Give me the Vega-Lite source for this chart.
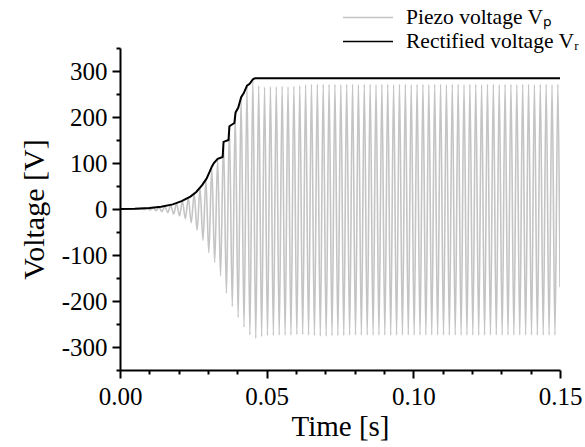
{
  "$schema": "https://vega.github.io/schema/vega-lite/v6.json",
  "width": 440,
  "height": 322,
  "autosize": {"type": "none"},
  "padding": {"left": 120, "top": 48, "right": 25, "bottom": 77},
  "background": "white",
  "config": {
    "view": {"stroke": null},
    "font": "Liberation Serif",
    "axis": {
      "grid": false,
      "domainColor": "black",
      "domainWidth": 2,
      "tickColor": "black",
      "tickWidth": 2,
      "labelFont": "Liberation Serif",
      "labelFontSize": 25,
      "labelColor": "black",
      "titleFont": "Liberation Serif",
      "titleFontSize": 29,
      "titleFontWeight": "normal",
      "titleColor": "black",
      "labelOverlap": false,
      "labelFlush": false
    }
  },
  "datasets": {
    "piezo": [
      {"t": 0, "v": 0},
      {"t": 0.00128, "v": 0.1}, {"t": 0.00228, "v": -0.2},
      {"t": 0.00328, "v": 0.2}, {"t": 0.00428, "v": -0.4},
      {"t": 0.00528, "v": 0.5}, {"t": 0.00628, "v": -0.7},
      {"t": 0.00728, "v": 0.8}, {"t": 0.00828, "v": -1.2},
      {"t": 0.00928, "v": 1.4}, {"t": 0.01028, "v": -2},
      {"t": 0.01128, "v": 2.3}, {"t": 0.01228, "v": -3.5},
      {"t": 0.01328, "v": 3.6}, {"t": 0.01428, "v": -5.5},
      {"t": 0.01528, "v": 5.5}, {"t": 0.01628, "v": -8},
      {"t": 0.01728, "v": 8}, {"t": 0.01828, "v": -11},
      {"t": 0.01928, "v": 12}, {"t": 0.02028, "v": -15},
      {"t": 0.02128, "v": 17}, {"t": 0.02228, "v": -21},
      {"t": 0.02328, "v": 24}, {"t": 0.02428, "v": -30},
      {"t": 0.02528, "v": 33}, {"t": 0.02628, "v": -46},
      {"t": 0.02728, "v": 45}, {"t": 0.02828, "v": -68},
      {"t": 0.02928, "v": 62}, {"t": 0.03028, "v": -95},
      {"t": 0.03128, "v": 90}, {"t": 0.03228, "v": -116},
      {"t": 0.03328, "v": 108}, {"t": 0.03428, "v": -145},
      {"t": 0.03528, "v": 146}, {"t": 0.03628, "v": -183},
      {"t": 0.03728, "v": 180}, {"t": 0.03828, "v": -212},
      {"t": 0.03928, "v": 208}, {"t": 0.04028, "v": -236},
      {"t": 0.04128, "v": 242}, {"t": 0.04228, "v": -257},
      {"t": 0.04328, "v": 268}, {"t": 0.04428, "v": -274},
      {"t": 0.04528, "v": 282}, {"t": 0.04628, "v": -281},
      {"t": 0.04728, "v": 268}, {"t": 0.04828, "v": -277},
      {"t": 0.04928, "v": 265}, {"t": 0.05028, "v": -275},
      {"t": 0.05128, "v": 266}, {"t": 0.05228, "v": -275},
      {"t": 0.05328, "v": 266}, {"t": 0.05428, "v": -274},
      {"t": 0.05528, "v": 267}, {"t": 0.05628, "v": -274},
      {"t": 0.05728, "v": 266}, {"t": 0.05828, "v": -274},
      {"t": 0.05928, "v": 267}, {"t": 0.06028, "v": -273},
      {"t": 0.06128, "v": 268}, {"t": 0.06228, "v": -273},
      {"t": 0.06328, "v": 270}, {"t": 0.06428, "v": -274},
      {"t": 0.06528, "v": 271}, {"t": 0.06628, "v": -275},
      {"t": 0.06728, "v": 271}, {"t": 0.06828, "v": -276},
      {"t": 0.06928, "v": 271}, {"t": 0.07028, "v": -276},
      {"t": 0.07128, "v": 271}, {"t": 0.07228, "v": -275},
      {"t": 0.07328, "v": 271}, {"t": 0.07428, "v": -275},
      {"t": 0.07528, "v": 270}, {"t": 0.07628, "v": -275},
      {"t": 0.07728, "v": 271}, {"t": 0.07828, "v": -274},
      {"t": 0.07928, "v": 271}, {"t": 0.08028, "v": -274},
      {"t": 0.08128, "v": 270}, {"t": 0.08228, "v": -274},
      {"t": 0.08328, "v": 271}, {"t": 0.08428, "v": -274},
      {"t": 0.08528, "v": 271}, {"t": 0.08628, "v": -274},
      {"t": 0.08728, "v": 270}, {"t": 0.08828, "v": -274},
      {"t": 0.08928, "v": 271}, {"t": 0.09028, "v": -274},
      {"t": 0.09128, "v": 271}, {"t": 0.09228, "v": -274},
      {"t": 0.09328, "v": 270}, {"t": 0.09428, "v": -274},
      {"t": 0.09528, "v": 271}, {"t": 0.09628, "v": -274},
      {"t": 0.09728, "v": 271}, {"t": 0.09828, "v": -274},
      {"t": 0.09928, "v": 270}, {"t": 0.10028, "v": -274},
      {"t": 0.10128, "v": 271}, {"t": 0.10228, "v": -274},
      {"t": 0.10328, "v": 271}, {"t": 0.10428, "v": -274},
      {"t": 0.10528, "v": 270}, {"t": 0.10628, "v": -274},
      {"t": 0.10728, "v": 271}, {"t": 0.10828, "v": -274},
      {"t": 0.10928, "v": 271}, {"t": 0.11028, "v": -274},
      {"t": 0.11128, "v": 270}, {"t": 0.11228, "v": -274},
      {"t": 0.11328, "v": 271}, {"t": 0.11428, "v": -274},
      {"t": 0.11528, "v": 271}, {"t": 0.11628, "v": -274},
      {"t": 0.11728, "v": 270}, {"t": 0.11828, "v": -274},
      {"t": 0.11928, "v": 271}, {"t": 0.12028, "v": -274},
      {"t": 0.12128, "v": 271}, {"t": 0.12228, "v": -274},
      {"t": 0.12328, "v": 270}, {"t": 0.12428, "v": -274},
      {"t": 0.12528, "v": 271}, {"t": 0.12628, "v": -274},
      {"t": 0.12728, "v": 271}, {"t": 0.12828, "v": -274},
      {"t": 0.12928, "v": 270}, {"t": 0.13028, "v": -274},
      {"t": 0.13128, "v": 271}, {"t": 0.13228, "v": -274},
      {"t": 0.13328, "v": 271}, {"t": 0.13428, "v": -274},
      {"t": 0.13528, "v": 270}, {"t": 0.13628, "v": -274},
      {"t": 0.13728, "v": 271}, {"t": 0.13828, "v": -274},
      {"t": 0.13928, "v": 271}, {"t": 0.14028, "v": -274},
      {"t": 0.14128, "v": 270}, {"t": 0.14228, "v": -274},
      {"t": 0.14328, "v": 271}, {"t": 0.14428, "v": -274},
      {"t": 0.14528, "v": 271}, {"t": 0.14628, "v": -274},
      {"t": 0.14728, "v": 270}, {"t": 0.14828, "v": -274},
      {"t": 0.14928, "v": 271}, {"t": 0.15, "v": -170}
    ],
    "rect": [
      {"t": 0, "v": 0},
      {"t": 0.005, "v": 0.5},
      {"t": 0.010, "v": 2},
      {"t": 0.014, "v": 5},
      {"t": 0.018, "v": 10},
      {"t": 0.021, "v": 17},
      {"t": 0.024, "v": 27},
      {"t": 0.026, "v": 37},
      {"t": 0.028, "v": 52},
      {"t": 0.0295, "v": 66},
      {"t": 0.0305, "v": 80},
      {"t": 0.0313, "v": 92},
      {"t": 0.032, "v": 100},
      {"t": 0.0333, "v": 109},
      {"t": 0.035, "v": 113},
      {"t": 0.0353, "v": 146},
      {"t": 0.037, "v": 150},
      {"t": 0.0373, "v": 180},
      {"t": 0.039, "v": 187},
      {"t": 0.0394, "v": 210},
      {"t": 0.0403, "v": 220},
      {"t": 0.0413, "v": 243},
      {"t": 0.0422, "v": 252},
      {"t": 0.0433, "v": 268},
      {"t": 0.0442, "v": 272},
      {"t": 0.0453, "v": 282},
      {"t": 0.046, "v": 284},
      {"t": 0.15, "v": 284}
    ]
  },
  "encoding": {
    "x": {
      "field": "t",
      "type": "quantitative",
      "scale": {"domain": [0, 0.15], "nice": false, "zero": false},
      "axis": {
        "title": "Time [s]",
        "values": [0, 0.01, 0.02, 0.03, 0.04, 0.05, 0.06, 0.07, 0.08, 0.09, 0.1, 0.11, 0.12, 0.13, 0.14, 0.15],
        "labelExpr": "abs(round(datum.value*100)%5)==0 ? format(datum.value, '.2f') : ''",
        "tickSize": {"condition": {"test": "abs(round(datum.value*100)%5)==0", "value": 8}, "value": 4},
        "labelPadding": 6,
        "titlePadding": 3
      }
    },
    "y": {
      "field": "v",
      "type": "quantitative",
      "scale": {"domain": [-350, 350], "nice": false},
      "axis": {
        "title": "Voltage [V]",
        "titleFontSize": 30,
        "values": [-350, -300, -250, -200, -150, -100, -50, 0, 50, 100, 150, 200, 250, 300, 350],
        "labelExpr": "datum.value % 100 == 0 ? '' + datum.value : ''",
        "tickSize": {"condition": {"test": "datum.value % 100 == 0", "value": 8}, "value": 4},
        "labelPadding": 5,
        "titlePadding": 12
      }
    }
  },
  "layer": [
    {
      "data": {"name": "piezo"},
      "mark": {"type": "line", "interpolate": "monotone", "strokeWidth": 1.6, "clip": true},
      "encoding": {
        "color": {
          "datum": "Piezo voltage Vₚ",
          "type": "nominal",
          "scale": {"domain": ["Piezo voltage Vₚ", "Rectified voltage Vᵣ"], "range": ["#c4c4c4", "#000000"]},
          "legend": {
            "orient": "none",
            "legendX": 237,
            "legendY": -41.5,
            "title": null,
            "padding": 0,
            "symbolType": "M-2.5,0H2.5",
            "symbolSize": 400,
            "symbolStrokeWidth": 1.6,
            "labelFont": "Liberation Serif",
            "labelFontSize": 21.5,
            "labelColor": "black",
            "labelOffset": 27,
            "rowPadding": 2,
            "labelLimit": 400
          }
        }
      }
    },
    {
      "data": {"name": "rect"},
      "mark": {"type": "line", "strokeWidth": 2, "clip": true},
      "encoding": {
        "color": {"datum": "Rectified voltage Vᵣ", "type": "nominal"}
      }
    }
  ]
}
